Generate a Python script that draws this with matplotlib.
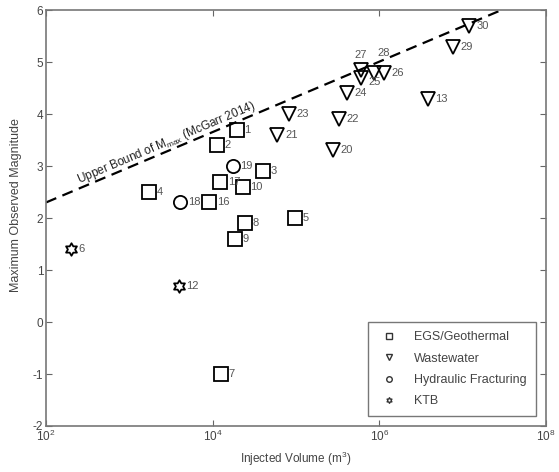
import numpy as np
import matplotlib
matplotlib.use("Agg")
import matplotlib.pyplot as plt
from matplotlib.path import Path

plt.rcParams['font.family'] = ['Liberation Sans', 'DejaVu Sans']
plt.rcParams['mathtext.fontset'] = 'custom'
plt.rcParams['mathtext.rm'] = 'Liberation Sans'
plt.rcParams['mathtext.default'] = 'regular'
plt.rcParams['axes.unicode_minus'] = False

# EGS / geothermal
egs_id = [1, 2, 3, 4, 5, 7, 8, 9, 10, 16, 17]
egs_vol = [1.96e4, 1.13e4, 4.0e4, 1.74e3, 9.8e4, 1.26e4, 2.46e4, 1.86e4, 2.3e4, 9.1e3, 1.23e4]
egs_mag = [3.7, 3.4, 2.9, 2.5, 2.0, -1.0, 1.9, 1.6, 2.6, 2.3, 2.7]

# wastewater
ww_id = [13, 20, 21, 22, 23, 24, 25, 26, 27, 28, 29, 30]
ww_vol = [3.85e6, 2.76e5, 6.0e4, 3.3e5, 8.2e4, 4.1e5, 6.1e5, 1.13e6, 6.0e5, 8.6e5, 7.6e6, 1.19e7]
ww_mag = [4.3, 3.3, 3.6, 3.9, 4.0, 4.4, 4.7, 4.8, 4.85, 4.8, 5.3, 5.7]

# hydraulic fracturing
hf_id = [18, 19]
hf_vol = [4.1e3, 1.75e4]
hf_mag = [2.3, 3.0]

# KTB
ktb_id = [6, 12]
ktb_vol = [198, 3.9e3]
ktb_mag = [1.4, 0.7]

# McGarr (2014) upper bound, end points
bound_vol = [1e2, 2.92e7]
bound_mag = [2.30, 6.0]

xticks = [1e2, 1e4, 1e6, 1e8]
xtick_labels = ['10$^{2}$', '10$^{4}$', '10$^{6}$', '10$^{8}$']
yticks = [-2, -1, 0, 1, 2, 3, 4, 5, 6]

# labels that are not placed to the right of the marker
special_offsets = {27: (0, 11, 'center'), 28: (3, 14, 'left'), 25: (5, -3, 'left')}

# star of David marker
ang = np.pi / 2 + np.arange(12) * np.pi / 6
rad = np.where(np.arange(12) % 2 == 0, 1.0, 1 / np.sqrt(3))
verts = np.column_stack([rad * np.cos(ang), rad * np.sin(ang)])
verts = np.vstack([verts, verts[:1]])
star = Path(verts, [Path.MOVETO] + [Path.LINETO] * 11 + [Path.CLOSEPOLY])

fig = plt.figure(figsize=(5.59, 4.72), dpi=100)
ax = fig.add_axes([0.0823, 0.0975, 0.894, 0.881])

ax.plot(bound_vol, bound_mag, 'k--', lw=1.6, dashes=(5, 3))

groups = [
    (egs_id, egs_vol, egs_mag, 's', 9.5, 'EGS/Geothermal'),
    (ww_id, ww_vol, ww_mag, 'v', 9.5, 'Wastewater'),
    (hf_id, hf_vol, hf_mag, 'o', 9.5, 'Hydraulic Fracturing'),
    (ktb_id, ktb_vol, ktb_mag, star, 9.0, 'KTB'),
]
handles = []
for ids, vol, mag, mk, ms, name in groups:
    ax.plot(vol, mag, linestyle='none', marker=mk, ms=ms, mfc='none',
            mec='black', mew=1.3)
    h, = ax.plot([], [], linestyle='none', marker=mk, ms=4, mfc='none',
                 mec='#333333', mew=1.0, label=name)
    handles.append(h)
    for i, v, m in zip(ids, vol, mag):
        dx, dy, ha = special_offsets.get(i, (5.5, 0, 'left'))
        ax.annotate(str(i), (v, m), xytext=(dx, dy), textcoords='offset points',
                    ha=ha, va='center', fontsize=8, color='#555555')

ax.text(2.82e3, 3.45, 'Upper Bound of M$_{max}$ (McGarr 2014)', rotation=23,
        ha='center', va='center', fontsize=8.5, color='#222222',
        rotation_mode='anchor')

ax.set_xscale('log')
ax.set_xlim(1e2, 1e8)
ax.set_ylim(-2, 6)
ax.set_xticks(xticks)
ax.set_xticklabels(xtick_labels)
ax.xaxis.set_minor_locator(matplotlib.ticker.NullLocator())
ax.set_yticks(yticks)
ax.tick_params(direction='in', top=True, right=True, length=4, width=0.8,
               colors='#666666', labelcolor='#444444', labelsize=8.5, pad=2)
for s in ax.spines.values():
    s.set_color('#777777')
    s.set_linewidth(1.2)

ax.set_xlabel('Injected Volume (m$^{3}$)', fontsize=8.5, color='#444444', labelpad=4)
ax.set_ylabel('Maximum Observed Magnitude', fontsize=9, color='#444444')
ax.yaxis.set_label_coords(-0.048, 0.532)

leg = ax.legend(handles=handles, loc='lower right', fontsize=9, frameon=True,
                fancybox=False, edgecolor='#555555', borderpad=0.7,
                labelspacing=0.75, handletextpad=1.0, handlelength=2.0,
                borderaxespad=0, bbox_to_anchor=(0.98, 0.024))
leg.get_frame().set_linewidth(1.0)
for t in leg.get_texts():
    t.set_color('#444444')

fig.savefig('out.png', dpi=100)
